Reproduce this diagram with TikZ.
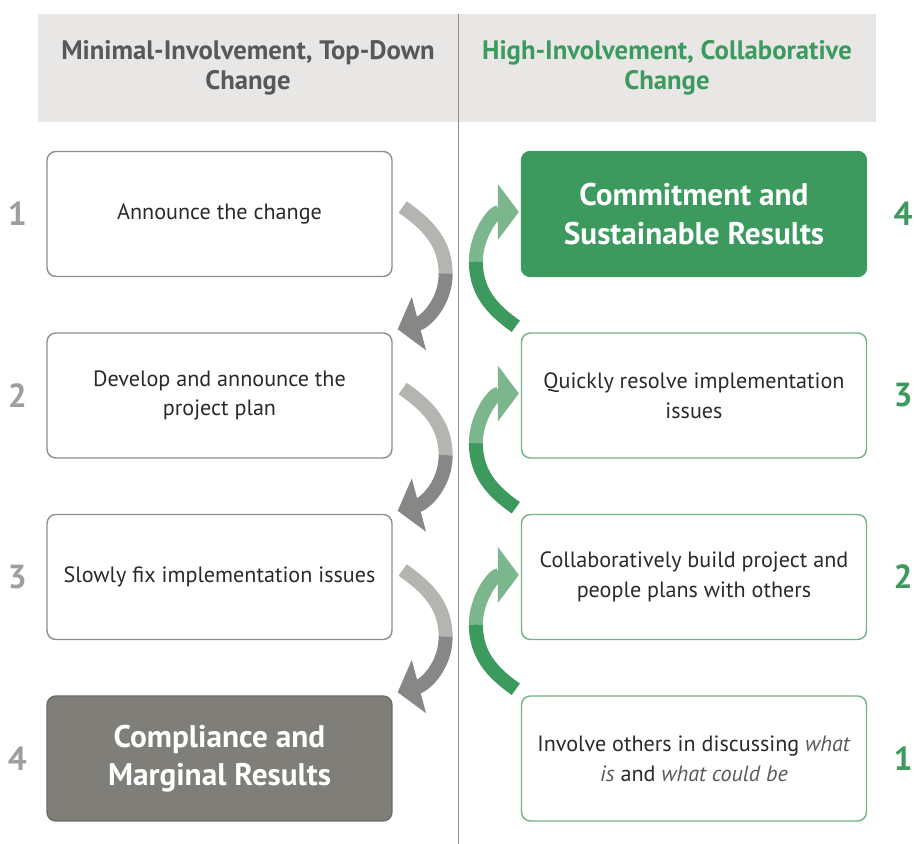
\documentclass[tikz,border=0pt]{standalone}
\usepackage{fontspec}
\setmainfont{PT Sans}
\usetikzlibrary{arrows.meta,positioning}
\definecolor{hdrgray}{HTML}{E8E7E6}
\definecolor{hdrtxt}{HTML}{58585A}
\definecolor{leafgreen}{HTML}{3D9A5E}
\definecolor{palegreen}{HTML}{7CB68D}
\definecolor{boxgreen}{HTML}{72B285}
\definecolor{boxgray}{HTML}{8E8E8C}
\definecolor{slate}{HTML}{7F7E79}
\definecolor{txtdark}{HTML}{2A2A2C}
\definecolor{itgray}{HTML}{5A5A5C}
\definecolor{numgray}{HTML}{9E9E9A}
\definecolor{lightarr}{HTML}{B4B4B1}
\definecolor{darkarr}{HTML}{878785}
\newcommand{\whatq}[1]{\textcolor{itgray}{\textit{#1}}}

\begin{document}
\begin{tikzpicture}[
    x=0.02cm,y=0.02cm,
    font=\fontsize{12.6}{17}\selectfont,
    hdr/.style={rectangle,fill=hdrgray,minimum height=2.16cm,inner sep=0pt,align=center,
        font=\fontsize{15.2}{17}\selectfont\bfseries},
    stepold/.style={rectangle,rounded corners=5pt,draw=boxgray,line width=0.8pt,fill=white,
        minimum width=6.9cm,minimum height=2.5cm,align=center,text=txtdark},
    stepnew/.style={stepold,draw=boxgreen},
    resultold/.style={stepold,fill=slate,draw=slate!85!black,text=white,
        font=\fontsize{17.8}{22}\selectfont\bfseries},
    resultnew/.style={stepold,fill=leafgreen,draw=leafgreen,text=white,
        font=\fontsize{17.8}{22}\selectfont\bfseries},
    numl/.style={font=\fontsize{19}{19}\selectfont\bfseries,text=numgray,inner sep=0pt},
    numr/.style={numl,text=leafgreen},
    divider/.style={draw=boxgray,line width=0.8pt},
    graytail/.style={draw=lightarr,line width=0.28cm},
    grayhead/.style={draw=darkarr,line width=0.28cm,-{Triangle[width=1.08cm,length=0.44cm]}},
    greentail/.style={draw=leafgreen,line width=0.28cm},
    greenhead/.style={draw=palegreen,line width=0.28cm,-{Triangle[width=1.1cm,length=0.42cm]}}
]
\useasboundingbox (0,0) rectangle (914,844);

% Column headers
\node[hdr,minimum width=8.4cm,text=hdrtxt] (hdrL) at (248,776) {Minimal-Involvement, Top-Down\\Change};
\node[hdr,minimum width=8.36cm,text=leafgreen] (hdrR) at (667,776) {High-Involvement, Collaborative\\Change};
\draw[divider] (hdrL.north east) -- (hdrL.north east |- 0,0);

% Top-down steps (left)
\node[stepold] (L1) at (219.5,630) {Announce the change};
\node[stepold] (L2) at (219.5,448.5) {Develop and announce the\\project plan};
\node[stepold] (L3) at (219.5,267) {Slowly fix implementation issues};
\node[resultold] (L4) at (219.5,85.5) {Compliance and\\Marginal Results};

% Collaborative steps (right)
\node[stepnew] (R1) at (694,85.5) {Involve others in discussing \whatq{what}\\\whatq{is} and \whatq{what could be}};
\node[stepnew] (R2) at (694,267) {Collaboratively build project and\\people plans with others};
\node[stepnew] (R3) at (694,448.5) {Quickly resolve implementation\\issues};
\node[resultnew] (R4) at (694,630) {Commitment and\\Sustainable Results};

% Step numbers
\node[numl,left=0.58cm of L1.west,anchor=center] (nL1) {1};
\node[numl,left=0.58cm of L2.west,anchor=center] (nL2) {2};
\node[numl,left=0.58cm of L3.west,anchor=center] (nL3) {3};
\node[numl,left=0.58cm of L4.west,anchor=center] (nL4) {4};
\node[numr,right=0.72cm of R1.east,anchor=center] (nR1) {1};
\node[numr,right=0.72cm of R2.east,anchor=center] (nR2) {2};
\node[numr,right=0.72cm of R3.east,anchor=center] (nR3) {3};
\node[numr,right=0.72cm of R4.east,anchor=center] (nR4) {4};

% Curved arrows, top-down side
\draw[graytail] ([shift={(10,7)}]L1.east) to[out=-35,in=90] ([shift={(53,3)}]L1.south east);
\draw[grayhead] ([shift={(53,3.5)}]L1.south east) to[out=-90,in=15] ([shift={(5,3)}]L2.north east);
\draw[graytail] ([shift={(10,7)}]L2.east) to[out=-35,in=90] ([shift={(53,3)}]L2.south east);
\draw[grayhead] ([shift={(53,3.5)}]L2.south east) to[out=-90,in=15] ([shift={(5,3)}]L3.north east);
\draw[graytail] ([shift={(10,7)}]L3.east) to[out=-35,in=90] ([shift={(53,3)}]L3.south east);
\draw[grayhead] ([shift={(53,3.5)}]L3.south east) to[out=-90,in=15] ([shift={(5,3)}]L4.north east);

% Curved arrows, collaborative side
\draw[greentail] ([shift={(-5,6)}]R1.north west) to[out=145,in=-90] ([shift={(-45,16)}]R2.south west);
\draw[greenhead] ([shift={(-45,15.5)}]R2.south west) to[out=90,in=180] ([shift={(-2,2)}]R2.west);
\draw[greentail] ([shift={(-5,6)}]R2.north west) to[out=145,in=-90] ([shift={(-45,16)}]R3.south west);
\draw[greenhead] ([shift={(-45,15.5)}]R3.south west) to[out=90,in=180] ([shift={(-2,2)}]R3.west);
\draw[greentail] ([shift={(-5,6)}]R3.north west) to[out=145,in=-90] ([shift={(-45,16)}]R4.south west);
\draw[greenhead] ([shift={(-45,15.5)}]R4.south west) to[out=90,in=180] ([shift={(-2,2)}]R4.west);
\end{tikzpicture}
\end{document}
